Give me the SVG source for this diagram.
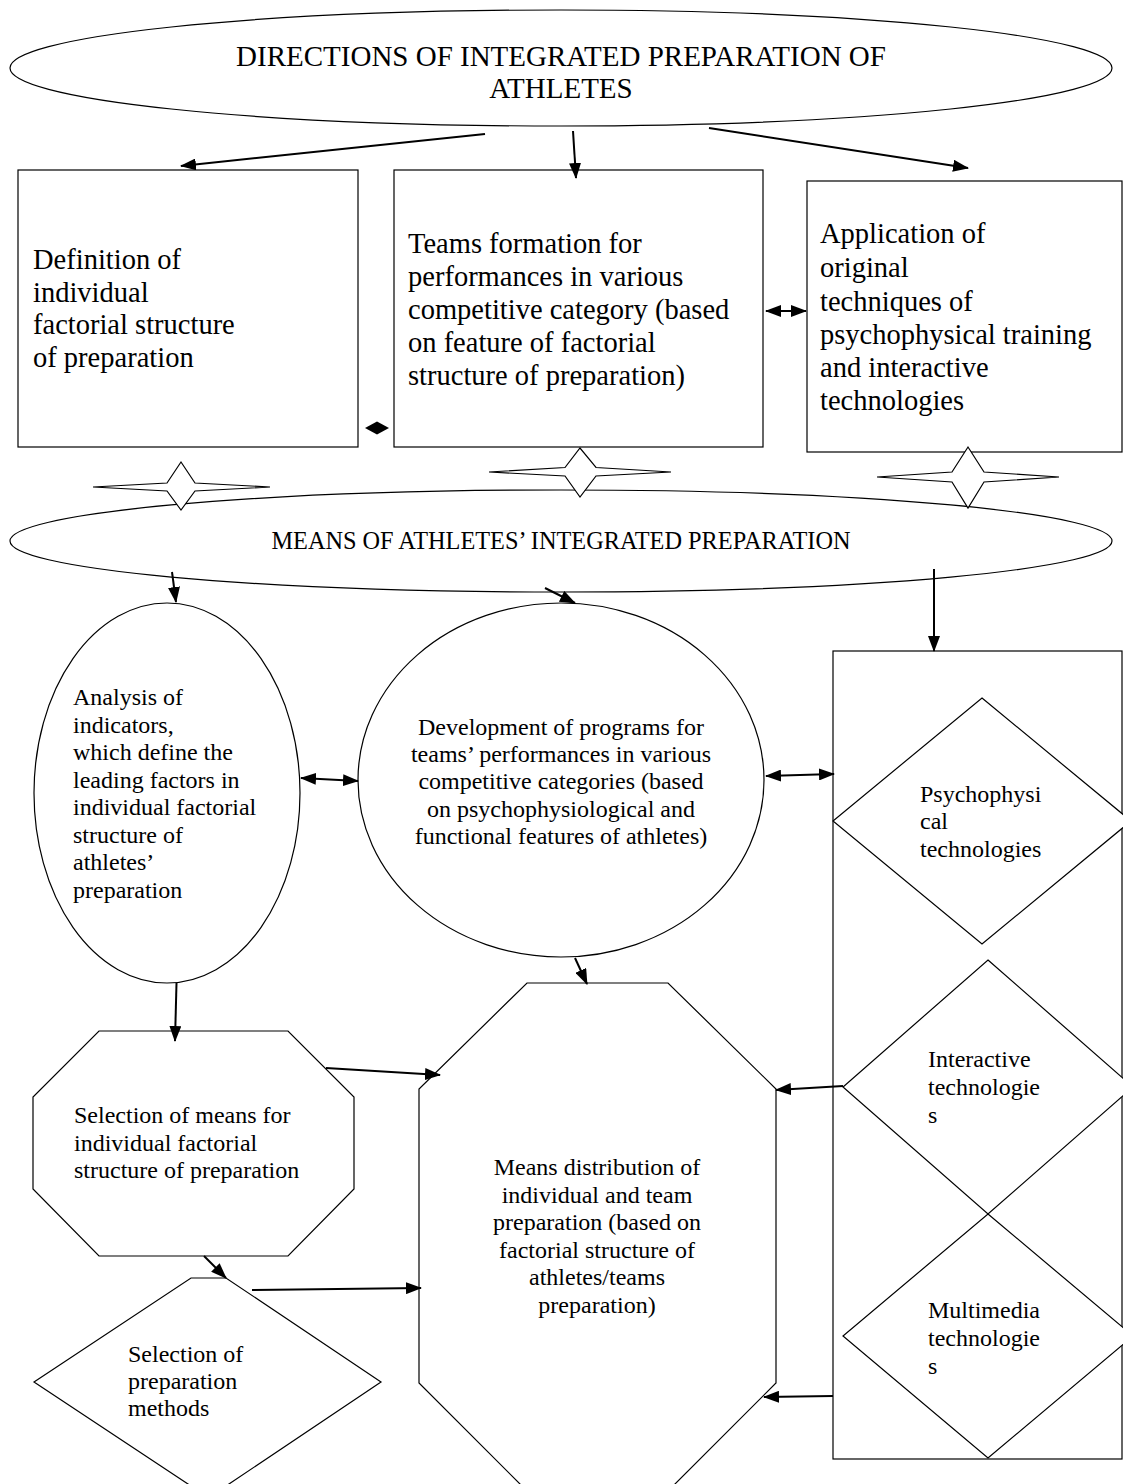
<svg xmlns="http://www.w3.org/2000/svg" width="1123" height="1484" viewBox="0 0 1123 1484">
<style>
.s{fill:#fff;stroke:#000;stroke-width:1.2}
.t{font-family:"Liberation Serif","Times New Roman",serif;fill:#000}
.big{font-size:28.5px}
.head{font-size:29px}
.mid{font-size:24px}
.c{stroke:#000;stroke-width:2;fill:none}
</style>
<defs>
<marker id="ah" markerUnits="userSpaceOnUse" markerWidth="16" markerHeight="12" refX="15" refY="6" orient="auto-start-reverse">
<path d="M0,0 L16,6 L0,12 z" fill="#000"/>
</marker>
</defs>
<rect width="1123" height="1484" fill="#fff"/>

<g id="n-directions">
<ellipse class="s" cx="561" cy="68" rx="551" ry="58"/>
<text class="t head" x="561" y="66" text-anchor="middle">DIRECTIONS OF INTEGRATED PREPARATION OF</text>
<text class="t head" x="561" y="98" text-anchor="middle">ATHLETES</text>
</g>

<g id="n-definition">
<rect class="s" x="18" y="170" width="340" height="277"/>
<text class="t big" x="33" y="269">Definition of</text>
<text class="t big" x="33" y="302">individual</text>
<text class="t big" x="33" y="334">factorial structure</text>
<text class="t big" x="33" y="367">of preparation</text>
</g>

<g id="n-teams">
<rect class="s" x="394" y="170" width="369" height="277"/>
<text class="t big" x="408" y="253">Teams formation for</text>
<text class="t big" x="408" y="286">performances in various</text>
<text class="t big" x="408" y="319">competitive category (based</text>
<text class="t big" x="408" y="352">on feature of factorial</text>
<text class="t big" x="408" y="385">structure of preparation)</text>
</g>

<g id="n-application">
<rect class="s" x="807" y="181" width="315" height="271"/>
<text class="t big" x="820" y="243">Application of</text>
<text class="t big" x="820" y="277">original</text>
<text class="t big" x="820" y="311">techniques of</text>
<text class="t big" x="820" y="344">psychophysical training</text>
<text class="t big" x="820" y="377">and interactive</text>
<text class="t big" x="820" y="410">technologies</text>
</g>

<g id="n-means">
<ellipse class="s" cx="561" cy="541" rx="551" ry="51"/>
<text class="t mid" x="561" y="549" text-anchor="middle" style="font-size:24.3px">MEANS OF ATHLETES’ INTEGRATED PREPARATION</text>
</g>

<g id="n-star1"><polygon class="s" points="93,487 167,483 181,462 195,483 270,487 195,491 181,510 167,491"/></g>
<g id="n-star2"><polygon class="s" points="489,472 565,467.5 580,448 596,467.5 671,472 596,476 580,497 565,476"/></g>
<g id="n-star3"><polygon class="s" points="877,477 952,472 968,447 984,472 1059,477 984,482 968,508 952,482"/></g>

<g id="n-analysis">
<ellipse class="s" cx="167" cy="793" rx="133" ry="190"/>
<text class="t mid" x="73" y="705">Analysis of</text>
<text class="t mid" x="73" y="733">indicators,</text>
<text class="t mid" x="73" y="760">which define the</text>
<text class="t mid" x="73" y="788">leading factors in</text>
<text class="t mid" x="73" y="815">individual factorial</text>
<text class="t mid" x="73" y="843">structure of</text>
<text class="t mid" x="73" y="870">athletes’</text>
<text class="t mid" x="73" y="898">preparation</text>
</g>

<g id="n-development">
<ellipse class="s" cx="561" cy="780" rx="203" ry="177"/>
<text class="t mid" x="561" y="735" text-anchor="middle">Development of programs for</text>
<text class="t mid" x="561" y="762" text-anchor="middle">teams’ performances in various</text>
<text class="t mid" x="561" y="789" text-anchor="middle">competitive categories (based</text>
<text class="t mid" x="561" y="817" text-anchor="middle">on psychophysiological and</text>
<text class="t mid" x="561" y="844" text-anchor="middle">functional features of athletes)</text>
</g>

<g id="n-technologies">
<rect class="s" x="833" y="651" width="289" height="808"/>
</g>

<g id="n-psychophysical">
<polygon class="s" points="982,698 1131,821 982,944 833,821"/>
<text class="t mid" x="920" y="802">Psychophysi</text>
<text class="t mid" x="920" y="829">cal</text>
<text class="t mid" x="920" y="857">technologies</text>
</g>

<g id="n-interactive">
<polygon class="s" points="988,960 1133,1087 988,1214 843,1087"/>
<text class="t mid" x="928" y="1067">Interactive</text>
<text class="t mid" x="928" y="1095">technologie</text>
<text class="t mid" x="928" y="1123">s</text>
</g>

<g id="n-multimedia">
<polygon class="s" points="988,1214 1133,1336 988,1458 843,1336"/>
<text class="t mid" x="928" y="1318">Multimedia</text>
<text class="t mid" x="928" y="1346">technologie</text>
<text class="t mid" x="928" y="1374">s</text>
</g>

<g id="n-selection-means">
<polygon class="s" points="99,1031 288,1031 354,1097 354,1189 288,1256 99,1256 33,1189 33,1097"/>
<text class="t mid" x="74" y="1123">Selection of means for</text>
<text class="t mid" x="74" y="1151">individual factorial</text>
<text class="t mid" x="74" y="1178">structure of preparation</text>
</g>

<g id="n-selection-methods">
<polygon class="s" points="191,1278 226,1278 381,1382 226,1486 191,1486 34,1382"/>
<text class="t mid" x="128" y="1362">Selection of</text>
<text class="t mid" x="128" y="1389">preparation</text>
<text class="t mid" x="128" y="1416">methods</text>
</g>

<g id="n-distribution">
<polygon class="s" points="527,983 668,983 776,1089 776,1383 670,1489 525,1489 419,1383 419,1089"/>
<text class="t mid" x="597" y="1175" text-anchor="middle">Means distribution of</text>
<text class="t mid" x="597" y="1203" text-anchor="middle">individual and team</text>
<text class="t mid" x="597" y="1230" text-anchor="middle">preparation (based on</text>
<text class="t mid" x="597" y="1258" text-anchor="middle">factorial structure of</text>
<text class="t mid" x="597" y="1285" text-anchor="middle">athletes/teams</text>
<text class="t mid" x="597" y="1313" text-anchor="middle">preparation)</text>
</g>

<g id="connectors">
<line class="c" x1="485" y1="134" x2="181" y2="166" marker-end="url(#ah)"/>
<line class="c" x1="573" y1="131" x2="576" y2="178" marker-end="url(#ah)"/>
<line class="c" x1="709" y1="128" x2="968" y2="168" marker-end="url(#ah)"/>
<line class="c" x1="766" y1="311" x2="806" y2="311" marker-start="url(#ah)" marker-end="url(#ah)"/>
<polygon points="365,428 377,421.5 389,428 377,434.5" fill="#000"/>
<line class="c" x1="172" y1="572" x2="176" y2="602" marker-end="url(#ah)"/>
<line class="c" x1="545" y1="588" x2="575" y2="603" marker-end="url(#ah)"/>
<line class="c" x1="934" y1="569" x2="934" y2="651" marker-end="url(#ah)"/>
<line class="c" x1="301" y1="778" x2="358" y2="781" marker-start="url(#ah)" marker-end="url(#ah)"/>
<line class="c" x1="766" y1="776" x2="834" y2="774" marker-start="url(#ah)" marker-end="url(#ah)"/>
<line class="c" x1="575" y1="958" x2="587" y2="984" marker-end="url(#ah)"/>
<line class="c" x1="176.5" y1="983" x2="175" y2="1041" marker-end="url(#ah)"/>
<line class="c" x1="326" y1="1068" x2="440" y2="1075" marker-end="url(#ah)"/>
<line class="c" x1="204" y1="1256" x2="226" y2="1278" marker-end="url(#ah)"/>
<line class="c" x1="252" y1="1290" x2="421" y2="1288" marker-end="url(#ah)"/>
<line class="c" x1="843" y1="1086" x2="776" y2="1090" marker-end="url(#ah)"/>
<line class="c" x1="833" y1="1396" x2="764" y2="1397" marker-end="url(#ah)"/>
</g>
</svg>
